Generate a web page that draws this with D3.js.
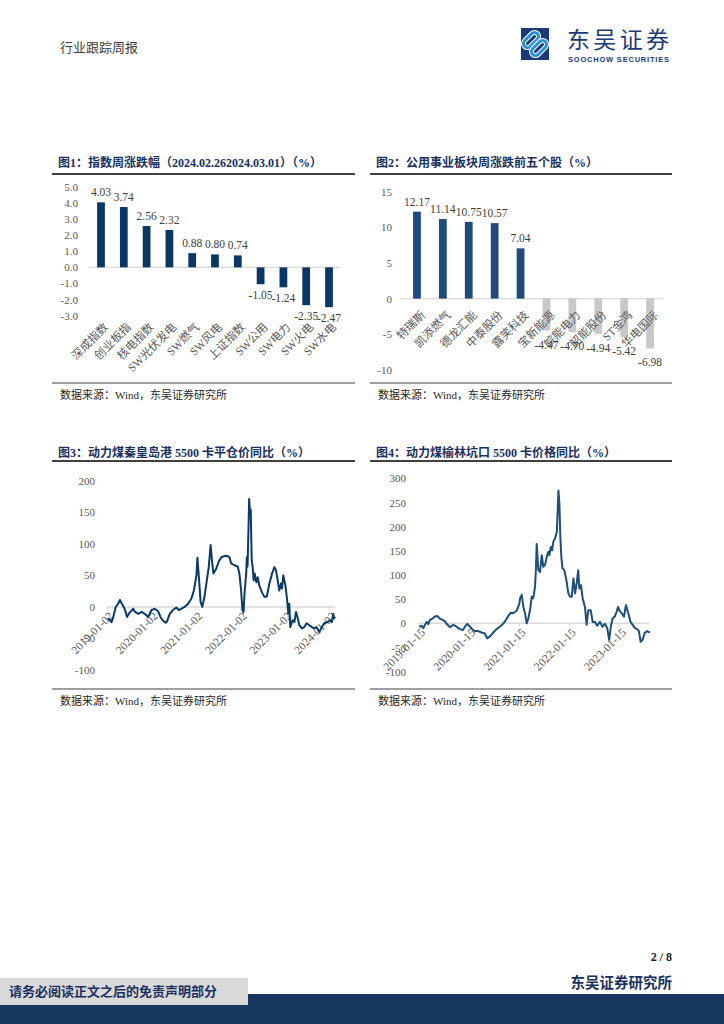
<!DOCTYPE html>
<html>
<head>
<meta charset="utf-8">
<script src="https://cdn.jsdelivr.net/npm/d3@7"></script>
<style>
  body { margin: 0; background: #fff; }
  svg { display: block; }
</style>
</head>
<body>
<svg id="page"></svg>
<script>
// 图1 指数周涨跌幅
var idxNames = ["深成指数", "创业板指", "核电指数", "SW光伏发电", "SW燃气", "SW风电", "上证指数", "SW公用", "SW电力", "SW火电", "SW水电"];
var idxValues = [4.03, 3.74, 2.56, 2.32, 0.88, 0.80, 0.74, -1.05, -1.24, -2.35, -2.47];
var idxTicks = [5, 4, 3, 2, 1, 0, -1, -2, -3];

// 图2 公用事业板块周涨跌前五个股
var stockNames = ["特瑞斯", "凯添燃气", "德龙汇能", "中泰股份", "露笑科技", "宝新能源", "皖能电力", "韶能股份", "ST金鸿", "华电国际"];
var stockValues = [12.17, 11.14, 10.75, 10.57, 7.04, -4.47, -4.70, -4.94, -5.42, -6.98];
var stockTicks = [15, 10, 5, 0, -5, -10];

// 图3 秦皇岛港 5500 卡平仓价同比
var qhdDates = ["2019-01-09","2019-02-08","2019-02-21","2019-03-15","2019-04-03","2019-04-18","2019-05-01","2019-05-27","2019-06-15","2019-07-07","2019-08-05","2019-08-20","2019-09-15","2019-10-13","2019-11-08","2019-12-05",
  "2020-01-02","2020-01-28","2020-02-25","2020-03-15","2020-04-05","2020-04-27","2020-05-08","2020-05-30","2020-06-25","2020-07-23","2020-08-13","2020-09-01","2020-09-29","2020-10-27","2020-11-23","2020-12-14",
  "2021-01-04","2021-01-12","2021-01-25","2021-02-07","2021-02-21","2021-03-11","2021-03-30","2021-04-15","2021-04-30","2021-05-12","2021-05-23","2021-06-14","2021-07-06","2021-07-28","2021-09-04","2021-10-01","2021-10-15","2021-11-11","2021-12-08","2021-12-22",
  "2022-01-05","2022-01-16","2022-01-25","2022-02-03","2022-02-16","2022-02-21","2022-02-27","2022-03-07","2022-03-12","2022-03-20","2022-03-25","2022-04-02","2022-04-10","2022-04-18","2022-04-26","2022-05-10","2022-05-21","2022-06-03","2022-06-25","2022-07-15","2022-08-03","2022-08-25","2022-09-16","2022-10-05","2022-10-18","2022-11-01","2022-11-14","2022-11-28","2022-12-06","2022-12-17",
  "2023-01-03","2023-01-16","2023-01-27","2023-02-04","2023-02-12","2023-03-03","2023-03-18","2023-03-31","2023-04-12","2023-04-27","2023-05-19","2023-06-07","2023-06-26","2023-07-18","2023-08-09","2023-08-27","2023-09-15","2023-10-07","2023-10-29","2023-11-17","2023-12-15",
  "2024-01-03","2024-01-19","2024-01-30","2024-02-08"];
var qhdValues = [-18,-24,-17,0,5,11,6,-3,-16,-9,-3,-8,-11,-8,-11,-16,
  -5,-3,-7,-16,-22,-25,-23,-11,-5,-1,-5,-3,0,5,13,26,
  50,78,45,8,0,16,42,63,98,72,53,60,72,79,81,79,69,66,64,53,
  26,-5,-8,24,53,79,64,127,171,148,154,74,63,42,53,39,47,34,23,16,16,37,53,63,58,42,26,37,29,50,
  34,13,-10,5,-32,-21,-24,-8,-16,-29,-34,-32,-26,-29,-32,-34,-32,-40,-32,-26,-24,
  -21,-24,-11,-19];
var qhdTickDates = ["2019-01-02", "2020-01-02", "2021-01-02", "2022-01-02", "2023-01-02", "2024-01-02"];
var qhdTicks = [200, 150, 100, 50, 0, -50, -100];

// 图4 榆林坑口 5500 卡价格同比
var ylDates = ["2019-01-17","2019-02-04","2019-02-15","2019-02-28","2019-03-12","2019-03-23","2019-04-04","2019-04-24","2019-05-11","2019-05-28","2019-06-16","2019-07-06","2019-07-23","2019-08-04","2019-08-29","2019-09-21","2019-10-16","2019-11-09","2019-11-29","2019-12-15",
  "2020-01-01","2020-01-21","2020-02-09","2020-02-26","2020-03-21","2020-04-14","2020-05-08","2020-05-25","2020-06-14","2020-07-08","2020-08-01","2020-08-25","2020-09-18","2020-10-08","2020-10-25","2020-11-11","2020-11-30","2020-12-25",
  "2021-01-14","2021-01-19","2021-01-31","2021-02-12","2021-02-24","2021-03-08","2021-03-20","2021-04-01","2021-04-14","2021-04-25","2021-05-08","2021-05-15","2021-05-20","2021-06-01","2021-06-13","2021-06-26","2021-07-07","2021-07-20","2021-08-01","2021-08-13","2021-08-20","2021-08-31","2021-09-09","2021-09-18","2021-10-01","2021-10-13","2021-10-20","2021-10-25","2021-11-01","2021-11-08","2021-11-15","2021-11-23","2021-12-07","2021-12-24",
  "2022-01-05","2022-01-18","2022-01-30","2022-02-11","2022-02-23","2022-03-07","2022-03-18","2022-03-26","2022-04-07","2022-04-19","2022-05-06","2022-05-18","2022-05-30","2022-06-17","2022-07-01","2022-07-18","2022-08-03","2022-08-23","2022-09-11","2022-09-28","2022-10-15","2022-10-29","2022-11-10","2022-11-23","2022-12-09","2022-12-22",
  "2023-01-02","2023-01-10","2023-01-28","2023-02-14","2023-02-28","2023-03-17","2023-04-03","2023-04-18","2023-05-05","2023-05-21","2023-06-02","2023-06-15","2023-06-29","2023-07-16","2023-08-02","2023-08-22"];
var ylValues = [-7,-5,-10,-3,3,-2,7,10,14,15,10,7,4,-1,-8,-3,-7,-12,-14,-7,
  -1,-7,-13,-16,-16,-19,-21,-31,-27,-19,-12,-7,-1,7,15,22,21,26,
  41,52,59,34,21,0,10,27,55,52,76,117,164,110,106,141,117,121,138,148,141,158,151,169,176,189,234,275,248,179,138,114,110,86,
  62,55,55,93,62,83,110,72,79,52,34,-3,27,27,3,3,-5,3,-7,-1,-10,-34,-7,10,14,24,
  34,27,21,14,38,21,3,-3,-10,-12,-16,-38,-34,-19,-16,-19];
var ylTickDates = ["2019-01-15", "2020-01-15", "2021-01-15", "2022-01-15", "2023-01-15"];
var ylTicks = [300, 250, 200, 150, 100, 50, 0, -50, -100];

var serif = "'Liberation Serif','Noto Sans CJK SC',serif";
var sans = "'Noto Sans CJK SC','Liberation Sans',sans-serif";
var navy = "#1a3060";
var axisGrey = "#595959";
var parseDate = d3.timeParse("%Y-%m-%d");

var svg = d3.select("#page")
            .attr("width", 724)
            .attr("height", 1024);

// header
svg.append("text")
   .attr("x", 60).attr("y", 52)
   .attr("font-family", sans).attr("font-size", 13)
   .attr("fill", "#404040")
   .text("行业跟踪周报");

var logo = svg.append("g");
logo.append("rect")
    .attr("x", 521).attr("y", 28).attr("width", 28).attr("height", 32)
    .attr("fill", "#1b3a78");
[[531, 40], [539, 48]].forEach(function(c)
{
  logo.append("rect")
      .attr("x", c[0] - 9).attr("y", c[1] - 4).attr("width", 18).attr("height", 8).attr("rx", 4)
      .attr("transform", "rotate(-45," + c[0] + "," + c[1] + ")")
      .attr("fill", "none").attr("stroke", "#ffffff").attr("stroke-width", 5);
  logo.append("rect")
      .attr("x", c[0] - 9).attr("y", c[1] - 4).attr("width", 18).attr("height", 8).attr("rx", 4)
      .attr("transform", "rotate(-45," + c[0] + "," + c[1] + ")")
      .attr("fill", "none").attr("stroke", "#2a8fdc").attr("stroke-width", 3);
});
logo.append("text")
    .attr("x", 567).attr("y", 48)
    .attr("font-family", sans).attr("font-size", 23)
    .attr("textLength", 102)
    .attr("fill", "#1b3a78")
    .text("东吴证券");
logo.append("text")
    .attr("x", 568).attr("y", 62)
    .attr("font-family", "'Liberation Sans',sans-serif").attr("font-size", 7.5).attr("font-weight", "bold")
    .attr("textLength", 101)
    .attr("fill", "#1b3a78")
    .text("SOOCHOW SECURITIES");

// title + lines + source for one panel
var drawFrame = function(x0, x1, title, titleY, lineY, bottomY)
{
  svg.append("text")
     .attr("x", x0 + 6).attr("y", titleY)
     .attr("font-family", serif).attr("font-size", 12).attr("font-weight", "bold")
     .attr("fill", navy)
     .text(title);
  svg.append("line")
     .attr("x1", x0).attr("x2", x1).attr("y1", lineY).attr("y2", lineY)
     .attr("stroke", "#404040").attr("stroke-width", 1.8);
  svg.append("line")
     .attr("x1", x0).attr("x2", x1).attr("y1", bottomY).attr("y2", bottomY)
     .attr("stroke", "#404040").attr("stroke-width", 1.2);
  svg.append("text")
     .attr("x", x0 + 8).attr("y", bottomY + 16)
     .attr("font-family", serif).attr("font-size", 11)
     .attr("fill", "#262626")
     .text("数据来源：Wind，东吴证券研究所");
}

drawFrame(52, 355, "图1：指数周涨跌幅（2024.02.262024.03.01）（%）", 167, 174, 383);
drawFrame(370, 672, "图2：公用事业板块周涨跌前五个股（%）", 167, 174, 383);
drawFrame(52, 355, "图3：动力煤秦皇岛港 5500 卡平仓价同比（%）", 457, 461, 689);
drawFrame(370, 672, "图4：动力煤榆林坑口 5500 卡价格同比（%）", 457, 461, 689);

// bar chart
var drawBars = function(cfg)
{
  var g = svg.append("g");
  var xScale = d3.scaleBand()
                 .domain(d3.range(cfg.names.length))
                 .range(cfg.xRange)
                 .paddingInner(cfg.pad)
                 .paddingOuter(cfg.pad / 2);
  var yScale = d3.scaleLinear()
                 .domain(cfg.yDomain)
                 .range(cfg.yRange);

  var yAxis = d3.axisLeft(yScale)
                .tickValues(cfg.ticks)
                .tickSize(0)
                .tickPadding(0)
                .tickFormat(cfg.fmt);
  var yAxisGraphic = g.append("g")
                      .attr("transform", "translate(" + cfg.labelX + ",0)")
                      .call(yAxis);
  yAxisGraphic.select(".domain").remove();
  yAxisGraphic.selectAll("text")
              .attr("font-family", serif).attr("font-size", 11).attr("fill", axisGrey);

  g.append("line")
   .attr("x1", cfg.zeroLine[0]).attr("x2", cfg.zeroLine[1])
   .attr("y1", yScale(0)).attr("y2", yScale(0))
   .attr("stroke", "#d9d9d9").attr("stroke-width", 1.2);

  g.selectAll("rect.bar")
   .data(cfg.values)
   .enter()
   .append("rect")
   .attr("class", "bar")
   .attr("x", function(d, i) { return xScale(i); })
   .attr("width", xScale.bandwidth())
   .attr("y", function(d) { return yScale(Math.max(d, 0)); })
   .attr("height", function(d) { return Math.abs(yScale(d) - yScale(0)); })
   .attr("fill", function(d) { return d >= 0 ? cfg.posColor : cfg.negColor; });

  g.selectAll("text.cat")
   .data(cfg.names)
   .enter()
   .append("text")
   .attr("class", "cat")
   .attr("transform", function(d, i)
   {
     return "translate(" + (xScale(i) + xScale.bandwidth() / 2 + cfg.catDx) + "," + cfg.catY + ") rotate(-45)";
   })
   .attr("text-anchor", "end")
   .attr("dy", "0.35em")
   .attr("font-family", serif).attr("font-size", 11.5)
   .attr("fill", axisGrey)
   .text(function(d) { return d; });

  g.selectAll("text.val")
   .data(cfg.values)
   .enter()
   .append("text")
   .attr("class", "val")
   .attr("x", function(d, i) { return xScale(i) + xScale.bandwidth() / 2; })
   .attr("y", function(d) { return d >= 0 ? yScale(d) - 6 : yScale(d) + cfg.negDy; })
   .attr("text-anchor", "middle")
   .attr("font-family", serif).attr("font-size", 11.5)
   .attr("fill", "#404040")
   .text(function(d) { return d.toFixed(2); });
}

drawBars({
  names: idxNames, values: idxValues, ticks: idxTicks,
  xRange: [89.6, 340.4], pad: 0.66,
  yDomain: [-3, 5], yRange: [315.7, 186.7],
  labelX: 78, zeroLine: [89, 340],
  fmt: function(d) { return d.toFixed(1); },
  posColor: "#0b3764", negColor: "#0b3764",
  catDx: 5, catY: 325, negDy: 15
});

drawBars({
  names: stockNames, values: stockValues, ticks: stockTicks,
  xRange: [404, 663], pad: 0.7,
  yDomain: [-10, 15], yRange: [370, 191.5],
  labelX: 392, zeroLine: [400, 663],
  fmt: function(d) { return String(d); },
  posColor: "#1f4a7a", negColor: "#c8c8c8",
  catDx: 6, catY: 313, negDy: 18
});

// line chart
var drawLine = function(cfg)
{
  var g = svg.append("g");
  var dataset = cfg.dates.map(function(d, i) { return { date: parseDate(d), value: cfg.values[i] }; });

  var xScale = d3.scaleTime()
                 .domain([parseDate(cfg.xDomain[0]), parseDate(cfg.xDomain[1])])
                 .range(cfg.xRange);
  var yScale = d3.scaleLinear()
                 .domain(cfg.yDomain)
                 .range(cfg.yRange);
  var y0 = yScale(0);

  var yAxis = d3.axisLeft(yScale)
                .tickValues(cfg.ticks)
                .tickSize(0)
                .tickPadding(0)
                .tickFormat(function(d) { return String(d); });
  var yAxisGraphic = g.append("g")
                      .attr("transform", "translate(" + cfg.labelX + ",0)")
                      .call(yAxis);
  yAxisGraphic.select(".domain").remove();
  yAxisGraphic.selectAll("text")
              .attr("font-family", serif).attr("font-size", 11).attr("fill", axisGrey);

  g.append("line")
   .attr("x1", cfg.axisLine[0]).attr("x2", cfg.axisLine[1])
   .attr("y1", y0).attr("y2", y0)
   .attr("stroke", "#d9d9d9").attr("stroke-width", 1.5);

  var tickDates = cfg.tickDates.map(parseDate);
  g.selectAll("line.tk")
   .data(tickDates)
   .enter()
   .append("line")
   .attr("class", "tk")
   .attr("x1", function(d) { return xScale(d); })
   .attr("x2", function(d) { return xScale(d); })
   .attr("y1", y0).attr("y2", y0 + 3)
   .attr("stroke", "#d9d9d9").attr("stroke-width", 1);

  g.selectAll("text.tl")
   .data(cfg.tickDates)
   .enter()
   .append("text")
   .attr("class", "tl")
   .attr("transform", function(d) { return "translate(" + (xScale(parseDate(d)) + 4) + "," + (y0 + 7) + ") rotate(-45)"; })
   .attr("text-anchor", "end")
   .attr("dy", "0.35em")
   .attr("font-family", serif).attr("font-size", 11.5)
   .attr("fill", axisGrey)
   .text(function(d) { return d; });

  var line = d3.line()
               .x(function(d) { return xScale(d.date); })
               .y(function(d) { return yScale(d.value); });

  g.append("path")
   .datum(dataset)
   .attr("d", line)
   .attr("fill", "none")
   .attr("stroke", cfg.color)
   .attr("stroke-width", 2)
   .attr("stroke-linejoin", "round");
}

drawLine({
  dates: qhdDates, values: qhdValues, tickDates: qhdTickDates, ticks: qhdTicks,
  xDomain: ["2019-01-02", "2024-03-01"], xRange: [107, 337],
  yDomain: [-100, 200], yRange: [670, 480.7],
  labelX: 95, axisLine: [106.7, 335],
  color: "#0b3a66"
});

drawLine({
  dates: ylDates, values: ylValues, tickDates: ylTickDates, ticks: ylTicks,
  xDomain: ["2019-01-15", "2023-08-22"], xRange: [419, 650],
  yDomain: [-100, 300], yRange: [671.7, 478.3],
  labelX: 406, axisLine: [418.3, 649.3],
  color: "#1f4e79"
});

// footer
svg.append("text")
   .attr("x", 672).attr("y", 961)
   .attr("text-anchor", "end")
   .attr("font-family", serif).attr("font-size", 12).attr("font-weight", "bold")
   .attr("fill", "#1a1a1a")
   .text("2 / 8");
svg.append("text")
   .attr("x", 672).attr("y", 988)
   .attr("text-anchor", "end")
   .attr("font-family", sans).attr("font-size", 14.5).attr("font-weight", "bold")
   .attr("fill", navy)
   .text("东吴证券研究所");
svg.append("rect")
   .attr("x", 0).attr("y", 994).attr("width", 724).attr("height", 30)
   .attr("fill", "#17365d");
svg.append("rect")
   .attr("x", 0).attr("y", 978).attr("width", 248).attr("height", 27)
   .attr("fill", "#d9d9d9");
svg.append("text")
   .attr("x", 9).attr("y", 996)
   .attr("font-family", sans).attr("font-size", 13).attr("font-weight", "bold")
   .attr("fill", navy)
   .text("请务必阅读正文之后的免责声明部分");
</script>
</body>
</html>
